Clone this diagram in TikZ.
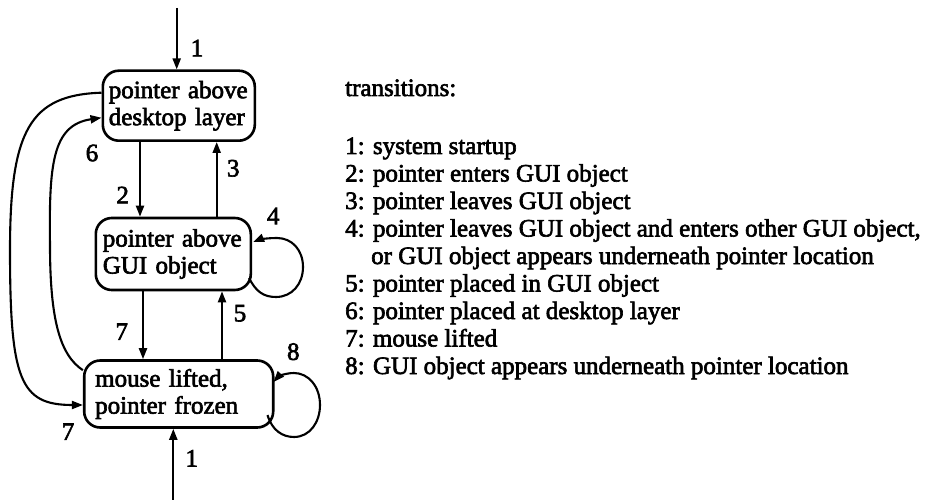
\documentclass[tikz,border=0pt]{standalone}
\usepackage{fontspec}
\setmainfont{Liberation Serif}[BoldFont=Liberation Serif, BoldFeatures={FakeBold=2.5}]
\usetikzlibrary{arrows.meta,calc}
\begin{document}
\begin{tikzpicture}[x=1pt,y=-1pt,
  font=\fontsize{25}{27}\selectfont\bfseries,
  box/.style={draw, line width=2.6pt, rounded corners=16pt, align=left, inner ysep=0pt, anchor=center},
  arr/.style={line width=2.1pt, -{Triangle[length=11pt,width=8pt]}},
  num/.style={inner sep=0pt},
  leg/.style={inner sep=0pt, anchor=base west}]
\useasboundingbox (0,0) rectangle (938,500);

% states
\node[box, text width=140pt, inner xsep=6pt, minimum height=70pt] (s1) at (178.8,105.7) {pointer above\\desktop layer};
\node[box, text width=141pt, inner xsep=7pt, minimum height=72pt] (s2) at (173.3,254) {pointer above\\GUI object};
\node[box, text width=167pt, inner xsep=11pt, minimum height=67pt] (s3) at (178.7,394) {mouse lifted,\\pointer frozen};

% free ends and vertical lines
\coordinate (t1) at (176.7,8);
\coordinate (b1) at (173.3,500);
\coordinate (x2) at (140,0);
\coordinate (x3) at (216.7,0);
\coordinate (x7) at (143,0);
\coordinate (x5) at (222,0);

\draw[arr] (t1) -- (t1 |- s1.north);
\draw[arr] (x2 |- s1.south) -- (x2 |- s2.north);
\draw[arr] (x3 |- s2.north) -- (x3 |- s1.south);
\draw[arr] (x7 |- s2.south) -- (x7 |- s3.north);
\draw[arr] (x5 |- s3.north) -- (x5 |- s2.south);
\draw[arr] (b1) -- (b1 |- s3.south);

% self loops
\draw[arr] ($(s2.east)+(-3,24)$) .. controls (256,292) and (264,297) .. (276,297)
  .. controls (292,297) and (303,284) .. (303,267)
  .. controls (303,250) and (292,238) .. (277,238)
  .. controls (266,238) and (258,240) .. ($(s2.east)+(1,-12)$);
\draw[arr] ($(s3.east)+(-7,21)$) .. controls (272,430) and (282,437) .. (294,437)
  .. controls (310,437) and (320,422) .. (320,405)
  .. controls (320,386) and (308,373) .. (294,373)
  .. controls (285,373) and (278,377) .. ($(s3.east)+(-1,-12)$);

% long curves on the left
\draw[arr] ($(s3.north west)+(0,11)$) .. controls (60,355) and (50,320) .. (50,245)
  .. controls (49,165) and (52,125) .. ($(s1.west)+(0,12)$);
\draw[arr] ($(s1.west)+(0,-13)$) .. controls (30,95) and (10,130) .. (10,250)
  .. controls (10,380) and (20,405) .. ($(s3.west)+(0,11)$);

% transition numbers
\node[num] (n1a) at (197,48) {1};
\node[num] (n6) at (92,153) {6};
\node[num] (n2) at (122.7,195) {2};
\node[num] (n3) at (233.3,168.3) {3};
\node[num] (n4) at (273.3,216) {4};
\node[num] (n7a) at (121.7,331.7) {7};
\node[num] (n5) at (240,313.3) {5};
\node[num] (n8) at (293.3,351.7) {8};
\node[num] (n7b) at (68,431.7) {7};
\node[num] (n1b) at (191.7,458.3) {1};

% legend
\node[leg] (l0) at (345,96) {transitions:};
\node[leg] (l1) at (345,154) {1: system startup};
\node[leg] (l2) at (345,181.5) {2: pointer enters GUI object};
\node[leg] (l3) at (345,209) {3: pointer leaves GUI object};
\node[leg] (l4) at (345,236.5) {4: pointer leaves GUI object and enters other GUI object,};
\node[leg] (l4b) at (371,264) {or GUI object appears underneath pointer location};
\node[leg] (l5) at (345,291.5) {5: pointer placed in GUI object};
\node[leg] (l6) at (345,319) {6: pointer placed at desktop layer};
\node[leg] (l7) at (345,346.5) {7: mouse lifted};
\node[leg] (l8) at (345,374) {8: GUI object appears underneath pointer location};
\end{tikzpicture}
\end{document}
